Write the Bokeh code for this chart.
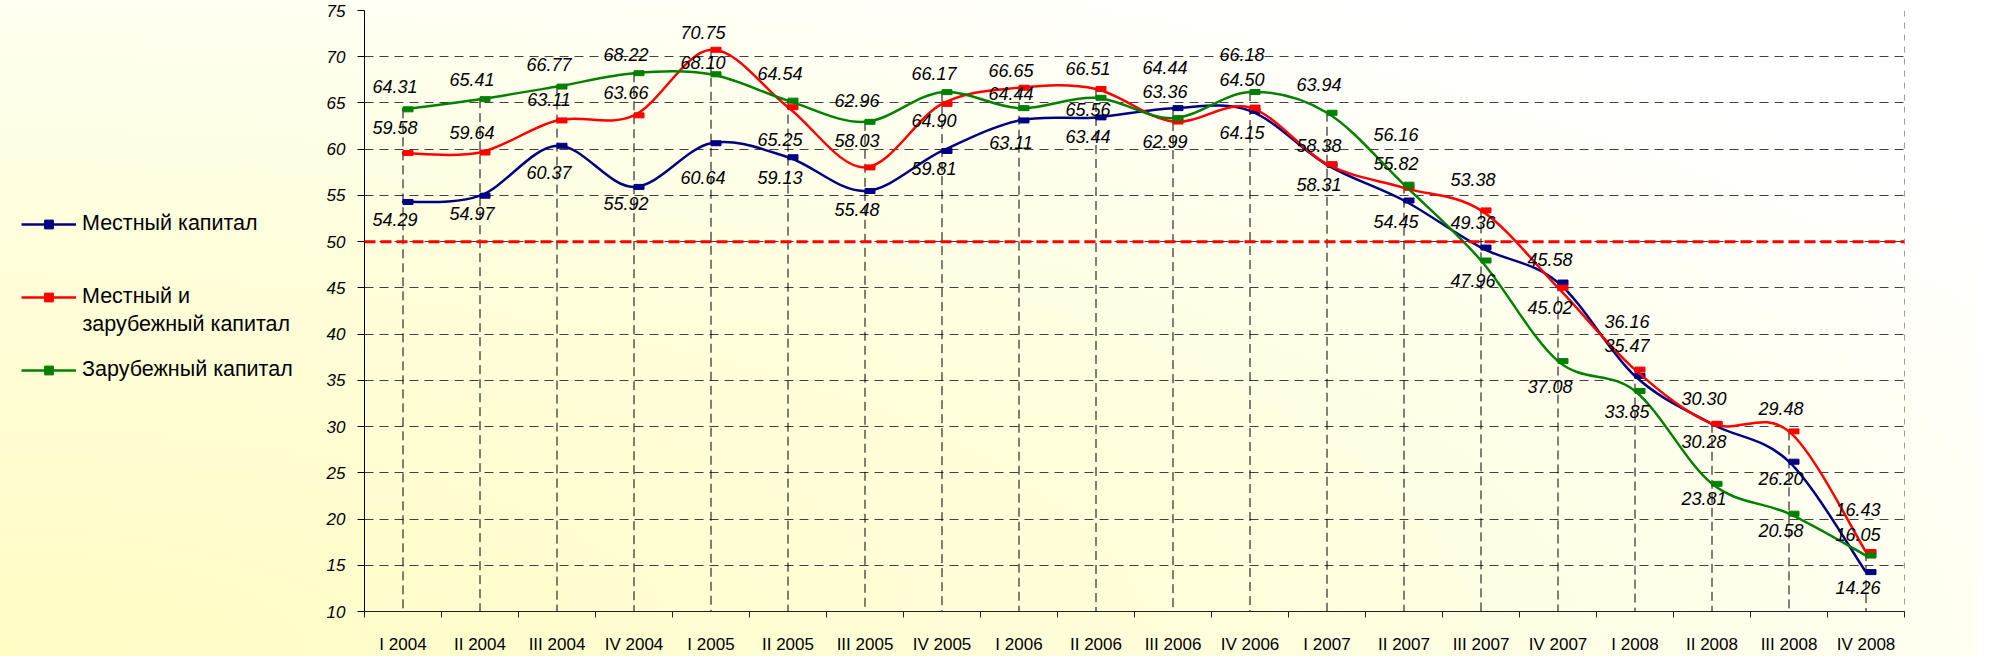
import numpy as np
from bokeh.plotting import figure
from bokeh.layouts import row
from bokeh.models import (Range1d, FixedTicker, Span, Legend, LegendItem, Label,
                          ColumnDataSource)
from bokeh.transform import dodge
from bokeh.embed import file_html
from bokeh.resources import INLINE
from bokeh.core.properties import value

# ---------------- data ----------------
quarters = ["I 2004", "II 2004", "III 2004", "IV 2004",
            "I 2005", "II 2005", "III 2005", "IV 2005",
            "I 2006", "II 2006", "III 2006", "IV 2006",
            "I 2007", "II 2007", "III 2007", "IV 2007",
            "I 2008", "II 2008", "III 2008", "IV 2008"]

local_capital = [54.29, 54.97, 60.37, 55.92, 60.64, 59.13, 55.48, 59.81,
                 63.11, 63.44, 64.44, 64.15, 58.31, 54.45, 49.36, 45.58,
                 35.47, 30.28, 26.20, 14.26]
mixed_capital = [59.58, 59.64, 63.11, 63.66, 70.75, 64.54, 58.03, 64.90,
                 66.65, 66.51, 62.99, 64.50, 58.38, 55.82, 53.38, 45.02,
                 36.16, 30.30, 29.48, 16.43]
foreign_capital = [64.31, 65.41, 66.77, 68.22, 68.10, 65.25, 62.96, 66.17,
                   64.44, 65.56, 63.36, 66.18, 63.94, 56.16, 47.96, 37.08,
                   33.85, 23.81, 20.58, 16.05]

series_names = ["Местный капитал", "Местный и", "Зарубежный капитал"]
series_name_2nd_line = "зарубежный капитал"
threshold = 50
y_ticks = [10, 15, 20, 25, 30, 35, 40, 45, 50, 55, 60, 65, 70, 75]

# label placement (screen px, + = down) -- layout only
local_label_dy = [18, 18, 27, 17, 34, 20, 19, 18, 22, 19, -41, 22, 20, 21, -25, -23, -31, 18, 17, 15]
mixed_label_dy = [-26, -20, -21, -23, -17, -34, -27, 17, -17, -20, 20, -28, -19, -24, -31, 20, -48, -25, -23, -43]
foreign_label_dy = [-23, -20, -22, -19, -12, 39, -21, -19, -15, 12, -27, -38, -28, -50, 20, 25, 21, 15, 17, -21]

colors = ["#000080", "#FF0000", "#008000"]
FONT = "Liberation Sans"
GRADIENT = ("radial-gradient(ellipse farthest-corner at 0% 100%, "
            "#fffcc4 0%, #fffedb 45%, #ffffff 85%)")

# ---------------- main chart ----------------
y_min, y_max = y_ticks[0], y_ticks[-1]
n = len(quarters)
xs = list(range(n))

p = figure(frame_width=1540, frame_height=601,
           x_range=Range1d(-0.5, n - 0.5), y_range=Range1d(y_min, y_max),
           output_backend="svg", toolbar_location=None,
           min_border_left=50, min_border_right=73,
           min_border_top=10, min_border_bottom=43)
p.background_fill_color = None
p.border_fill_color = None
p.outline_line_color = None

# grids
p.xgrid.visible = False
p.ygrid.ticker = FixedTicker(ticks=y_ticks)
p.ygrid.grid_line_color = "#404040"
p.ygrid.grid_line_dash = "9 6"
p.ygrid.grid_line_width = 1

# axes
p.yaxis.ticker = FixedTicker(ticks=y_ticks)
p.yaxis.axis_line_color = "black"
p.yaxis.major_tick_line_color = "black"
p.yaxis.major_tick_out = 7
p.yaxis.major_tick_in = 0
p.yaxis.minor_tick_line_color = None
p.yaxis.major_label_text_font = FONT
p.yaxis.major_label_text_font_style = "italic"
p.yaxis.major_label_text_font_size = "17px"
p.yaxis.major_label_text_color = "black"
p.yaxis.major_label_standoff = 12

p.xaxis.ticker = FixedTicker(ticks=xs, minor_ticks=[i - 0.5 for i in range(n + 1)])
p.xaxis.major_label_overrides = {i: q for i, q in enumerate(quarters)}
p.xaxis.axis_line_color = "#222222"
p.xaxis.major_tick_line_color = None
p.xaxis.major_tick_out = 0
p.xaxis.major_tick_in = 0
p.xaxis.minor_tick_line_color = "#222222"
p.xaxis.minor_tick_out = 6
p.xaxis.minor_tick_in = 0
p.xaxis.major_label_text_font = FONT
p.xaxis.major_label_text_font_size = "17px"
p.xaxis.major_label_text_color = "black"
p.xaxis.major_label_standoff = 17

# drop lines from highest point to the axis
tops = [max(a, b, c) for a, b, c in zip(local_capital, mixed_capital, foreign_capital)]
p.segment(x0=xs, y0=tops, x1=xs, y1=[y_min] * n, line_color="black",
          line_width=1, line_dash="9 5")

# right dashed border
p.add_layout(Span(location=n - 0.5, dimension="height", line_color="#404040",
                  line_width=1, line_dash="6 6"))

# 50% threshold line
p.add_layout(Span(location=threshold, dimension="width", line_color="#FF0000",
                  line_width=3, line_dash="11 5"))


def smooth_segments(ys):
    m = len(ys)
    d = dict(x0=[], y0=[], x1=[], y1=[], cx0=[], cy0=[], cx1=[], cy1=[])
    for i in range(m - 1):
        a = max(i - 1, 0)
        b = min(i + 2, m - 1)
        d["x0"].append(xs[i]); d["y0"].append(ys[i])
        d["x1"].append(xs[i + 1]); d["y1"].append(ys[i + 1])
        d["cx0"].append(xs[i] + (xs[i + 1] - xs[a]) / 6.0)
        d["cy0"].append(ys[i] + (ys[i + 1] - ys[a]) / 6.0)
        d["cx1"].append(xs[i + 1] - (xs[b] - xs[i]) / 6.0)
        d["cy1"].append(ys[i + 1] - (ys[b] - ys[i]) / 6.0)
    return d


all_series = [local_capital, mixed_capital, foreign_capital]
all_dy = [local_label_dy, mixed_label_dy, foreign_label_dy]
for ys, col in zip(all_series, colors):
    seg = ColumnDataSource(smooth_segments(ys))
    p.bezier(x0="x0", y0="y0", x1="x1", y1="y1", cx0="cx0", cy0="cy0",
             cx1="cx1", cy1="cy1", source=seg, line_color=col, line_width=2.5,
             line_cap="round")
    src = ColumnDataSource(dict(x=xs, y=ys))
    p.rect(x=dodge("x", 0.065, range=p.x_range), y="y", width=10, height=5,
           width_units="screen", height_units="screen", source=src,
           fill_color=col, line_color=col)

for ys, dy in zip(all_series, all_dy):
    src = ColumnDataSource(dict(x=xs, y=ys, t=["%.2f" % v for v in ys], dy=dy))
    p.text(x="x", y="y", text="t", x_offset=-8, y_offset="dy", source=src,
           text_align="center", text_baseline="middle",
           text_font=value(FONT), text_font_style="italic",
           text_font_size="18px", text_color="black")

# ---------------- legend panel ----------------
lg = figure(width=314, height=654, x_range=Range1d(0, 1), y_range=Range1d(0, 1),
            x_axis_type=None, y_axis_type=None, output_backend="svg",
            toolbar_location=None, min_border=0)
lg.background_fill_color = None
lg.border_fill_color = None
lg.outline_line_color = None
lg.grid.visible = False

legend_items = []
for col, name in zip(colors, series_names):
    lr = lg.line(x=[np.nan], y=[np.nan], line_color=col, line_width=2.5)
    mr = lg.scatter(x=[np.nan], y=[np.nan], marker="square", size=7,
                    fill_color=col, line_color=col)
    legend_items.append(LegendItem(label=name, renderers=[lr, mr]))

legend = Legend(items=legend_items, location=(21, 227), orientation="vertical",
                glyph_width=55, glyph_height=22, label_height=22, spacing=48,
                padding=0, margin=0, label_standoff=6,
                label_text_font=FONT, label_text_font_size="21.5px",
                label_text_color="black", border_line_color=None,
                background_fill_alpha=0)
lg.add_layout(legend)
lg.add_layout(Label(x=82, y=286, x_units="screen", y_units="screen",
                    text=series_name_2nd_line, text_baseline="middle",
                    text_font=FONT, text_font_size="21.5px", text_color="black"))

layout = row(lg, p, spacing=0, styles={"background": GRADIENT})

open("out.html", "w").write(file_html(layout, INLINE))
